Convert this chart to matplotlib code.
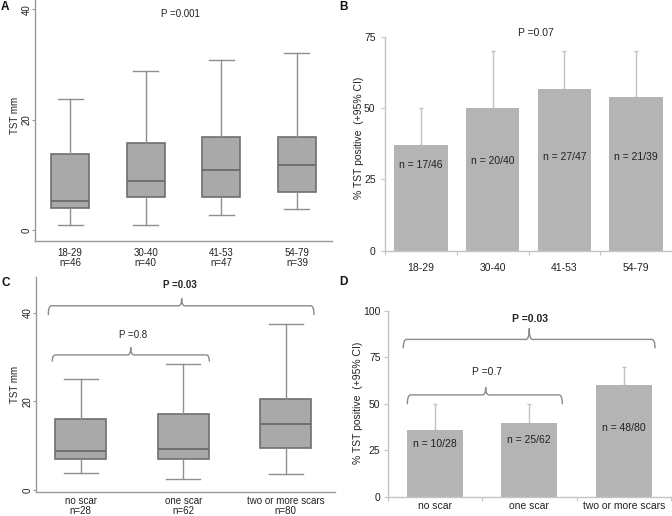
import matplotlib
matplotlib.use("Agg")
import matplotlib.pyplot as plt
from matplotlib.path import Path
from matplotlib.patches import PathPatch

plt.rcParams['font.family'] = ['Liberation Sans', 'DejaVu Sans']

# ---------------- data ----------------
age_groups = ["18-29", "30-40", "41-53", "54-79"]
age_n = [46, 40, 47, 39]
A_whislo = [0.9, 0.9, 2.8, 3.8]
A_q1 = [3.9, 5.9, 5.9, 6.9]
A_med = [5.3, 8.8, 10.8, 11.8]
A_q3 = [13.8, 15.8, 16.9, 16.9]
A_whishi = [23.8, 28.9, 30.9, 32.0]
A_p = "P =0.001"

B_pct = [37.0, 50.0, 56.9, 53.8]
B_upper = [50, 70, 70, 70]
B_labels = ["n = 17/46", "n = 20/40", "n = 27/47", "n = 21/39"]
B_p = "P =0.07"

scar_groups = ["no scar", "one scar", "two or more scars"]
scar_n = [28, 62, 80]
C_whislo = [3.8, 2.6, 3.7]
C_q1 = [7.1, 7.1, 9.4]
C_med = [8.7, 9.3, 14.8]
C_q3 = [16.0, 17.1, 20.5]
C_whishi = [25.0, 28.4, 37.4]
C_p_all = "P =0.03"
C_p_01 = "P =0.8"

D_pct = [35.8, 39.7, 60.0]
D_upper = [50, 50, 70]
D_labels = ["n = 10/28", "n = 25/62", "n = 48/80"]
D_p_all = "P =0.03"
D_p_01 = "P =0.7"

# ---------------- style ----------------
TXT = '#222222'
BOX_FACE = '#a9a9a9'
BOX_EDGE = '#6f6f6f'
WHISK = '#8f8f8f'
SPINE_R = '#9a9a9a'
BAR = '#b4b4b4'
SPINE_X = '#c4c4c4'
ERR = '#c2c2c2'
BRACE = '#8a8a8a'

W, H = 672, 516
fig = plt.figure(figsize=(W / 100, H / 100), dpi=100)


def rect(l, t, r, b):
    return [l / W, 1 - b / H, (r - l) / W, (b - t) / H]


def brace(ax, x0, x1, xm, y_end, y_line, y_tip, rx):
    verts = [(x0, y_end), (x0, y_line), (x0 + rx, y_line),
             (xm - rx, y_line), (xm, y_line), (xm, y_tip),
             (xm, y_line), (xm + rx, y_line),
             (x1 - rx, y_line), (x1, y_line), (x1, y_end)]
    codes = [Path.MOVETO, Path.CURVE3, Path.CURVE3, Path.LINETO,
             Path.CURVE3, Path.CURVE3, Path.CURVE3, Path.CURVE3,
             Path.LINETO, Path.CURVE3, Path.CURVE3]
    ax.add_patch(PathPatch(Path(verts, codes), facecolor='none',
                           edgecolor=BRACE, linewidth=1.0, clip_on=False))


def box_axes(ax, groups, ns, lo, q1, med, q3, hi, xlim, ylim, pad):
    stats = [dict(whislo=a, q1=b, med=c, q3=d, whishi=e, fliers=[])
             for a, b, c, d, e in zip(lo, q1, med, q3, hi)]
    pos = list(range(1, len(groups) + 1))
    ax.bxp(stats, positions=pos, widths=0.5, capwidths=0.33,
           showfliers=False, patch_artist=True,
           boxprops=dict(facecolor=BOX_FACE, edgecolor=BOX_EDGE, linewidth=1.2),
           medianprops=dict(color='#666666', linewidth=1.2),
           whiskerprops=dict(color=WHISK, linewidth=1.0),
           capprops=dict(color=WHISK, linewidth=1.0))
    ax.set_xlim(*xlim)
    ax.set_ylim(*ylim)
    ax.set_xticks(pos, [f"{g}\nn={n}" for g, n in zip(groups, ns)])
    for lab in ax.get_xticklabels():
        lab.set_linespacing(1.05)
    ax.set_yticks([0, 20, 40])
    ax.tick_params(axis='x', length=0, pad=pad, labelsize=7, labelcolor=TXT)
    ax.tick_params(axis='y', length=2, width=0.8, color=SPINE_R, pad=0.2,
                   labelsize=7, labelcolor=TXT, labelrotation=90)
    for lab in ax.get_yticklabels():
        lab.set_va('center')
    for s in ['top', 'right']:
        ax.spines[s].set_visible(False)
    for s in ['left', 'bottom']:
        ax.spines[s].set_color(SPINE_R)
        ax.spines[s].set_linewidth(1.0)
    ax.set_ylabel("TST mm", fontsize=7, color=TXT, va='center')
    ax.patch.set_alpha(0)


def bar_axes(ax, groups, pct, upper, labels, label_y, width, yticks, xpad, ypad):
    x = list(range(len(groups)))
    ax.bar(x, pct, width=width, color=BAR, zorder=2)
    ax.errorbar(x, pct, yerr=[[0] * len(x), [u - p for u, p in zip(upper, pct)]],
                fmt='none', ecolor=ERR, elinewidth=1.0, capsize=1.6,
                capthick=1.0, zorder=1)
    for xi, lab, ly in zip(x, labels, label_y):
        ax.text(xi, ly, lab, ha='center', va='center', fontsize=7.5,
                color=TXT, zorder=3)
    ax.set_xlim(-0.5, len(groups) - 0.5)
    ax.set_xticks(x, groups)
    ax.set_xticks([i - 0.5 for i in range(len(groups) + 1)], minor=True)
    ax.set_yticks(yticks)
    ax.set_ylim(yticks[0], yticks[-1])
    ax.tick_params(axis='x', which='major', length=0, pad=xpad,
                   labelsize=7.5, labelcolor=TXT)
    ax.tick_params(axis='x', which='minor', length=3, width=0.8, color=SPINE_X)
    ax.tick_params(axis='y', length=3, width=0.8, color=SPINE_X, pad=ypad,
                   labelsize=7.5, labelcolor=TXT)
    for s in ['top', 'right']:
        ax.spines[s].set_visible(False)
    for s in ['left', 'bottom']:
        ax.spines[s].set_color(SPINE_X)
        ax.spines[s].set_linewidth(1.0)
    ax.set_ylabel("% TST positive  (+95% CI)", fontsize=7.5, color=TXT, va='center')
    ax.patch.set_alpha(0)


# ---------------- panel A ----------------
axA = fig.add_axes(rect(35, 0, 332, 240.7))
box_axes(axA, age_groups, age_n, A_whislo, A_q1, A_med, A_q3, A_whishi,
         (0.537, 4.463), (-1.94, 41.69), 5.0)
axA.yaxis.set_label_coords(-0.066, 0.52)
axA.text(2.454, 39.15, A_p, ha='center', va='center', fontsize=7, color=TXT)

# ---------------- panel B ----------------
axB = fig.add_axes(rect(385.3, 37, 671.7, 250.7))
bar_axes(axB, age_groups, B_pct, B_upper, B_labels, [30, 31.6, 33, 33],
         0.745, [0, 25, 50, 75], 8.5, 4)
axB.yaxis.set_label_coords(-0.0908, 0.53)
axB.text(1.605, 76.4, B_p, ha='center', va='center', fontsize=7.5, color=TXT)

# ---------------- panel C ----------------
axC = fig.add_axes(rect(35.7, 277, 335, 491.7))
box_axes(axC, scar_groups, scar_n, C_whislo, C_q1, C_med, C_q3, C_whishi,
         (0.56, 3.48), (-0.38, 48.1), 3.0)
axC.yaxis.set_label_coords(-0.068, 0.5)
brace(axC, 0.683, 3.275, 1.984, 39.5, 41.6, 43.3, 0.03)
brace(axC, 0.722, 2.254, 1.487, 29.0, 30.5, 32.2, 0.03)
axC.text(1.968, 46.3, C_p_all, ha='center', va='center', fontsize=7,
         fontweight='bold', color=TXT)
axC.text(1.506, 35.0, C_p_01, ha='center', va='center', fontsize=7, color=TXT)

# ---------------- panel D ----------------
axD = fig.add_axes(rect(387.5, 310.7, 671, 497))
bar_axes(axD, scar_groups, D_pct, D_upper, D_labels, [28.6, 30.4, 37],
         0.59, [0, 25, 50, 75, 100], 3, 2)
axD.yaxis.set_label_coords(-0.103, 0.507)
brace(axD, -0.333, 2.331, 1.0, 79.8, 84.6, 90.5, 0.035)
brace(axD, -0.29, 1.35, 0.539, 49.8, 54.8, 58.9, 0.035)
axD.text(1.008, 95.4, D_p_all, ha='center', va='center', fontsize=7.5,
         fontweight='bold', color=TXT)
axD.text(0.55, 67.3, D_p_01, ha='center', va='center', fontsize=7.5, color=TXT)

# ---------------- panel letters ----------------
for letter, px, py in [("A", 4.5, 7), ("B", 343, 6.5), ("C", 6, 283), ("D", 343.5, 282)]:
    fig.text(px / W, 1 - py / H, letter, ha='center', va='center',
             fontsize=8.5, fontweight='bold', color='#111111')

fig.savefig("out.png", dpi=100, facecolor='white')
